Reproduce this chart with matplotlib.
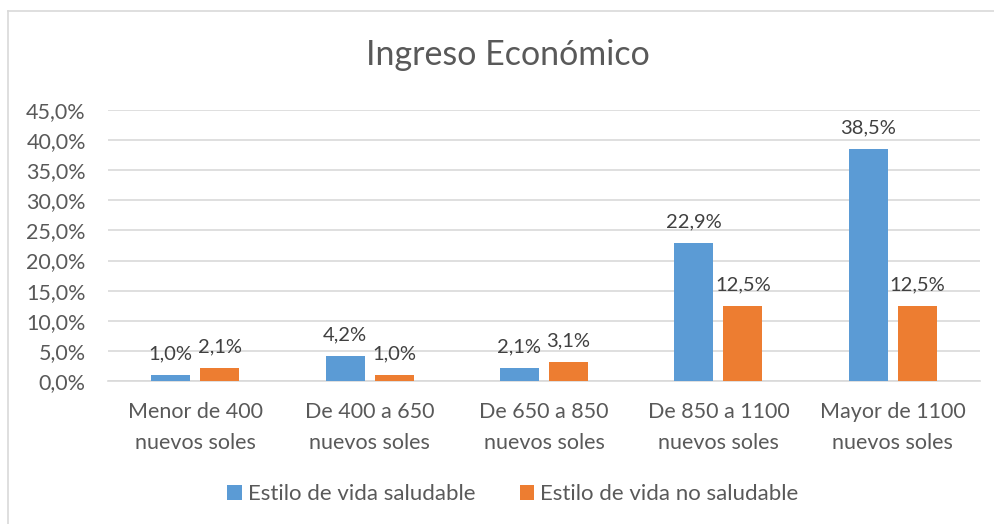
import numpy as np
import matplotlib.pyplot as plt
from matplotlib.lines import Line2D

categorias = ["Menor de 400\nnuevos soles", "De 400 a 650\nnuevos soles",
              "De 650 a 850\nnuevos soles", "De 850 a 1100\nnuevos soles",
              "Mayor de 1100\nnuevos soles"]
saludable = [1.0, 4.2, 2.1, 22.9, 38.5]
no_saludable = [2.1, 1.0, 3.1, 12.5, 12.5]
series = ["Estilo de vida saludable", "Estilo de vida no saludable"]

plt.rcParams['font.family'] = ['Lato', 'DejaVu Sans']
gris = '#595959'

W, H = 995, 524
fig = plt.figure(figsize=(W / 100, H / 100), dpi=100)
# plot area in pixels: x 108..980, y 110 (45%)..381 (0%)
ax = fig.add_axes([108 / W, 1 - 381 / H, (980 - 108) / W, (381 - 110) / H])

x = np.arange(len(categorias))
ancho = 0.224
sep = 0.057
b1 = ax.bar(x - (ancho + sep) / 2, saludable, ancho, color='#5b9bd5', zorder=3)
b2 = ax.bar(x + (ancho + sep) / 2, no_saludable, ancho, color='#ed7d31', zorder=3)

for barras, vals in [(b1, saludable), (b2, no_saludable)]:
    for r, v in zip(barras, vals):
        ax.annotate(f"{v:.1f}%".replace('.', ','),
                    (r.get_x() + r.get_width() / 2, v),
                    xytext=(0, 9), textcoords='offset points',
                    ha='center', va='bottom', fontsize=14.5, color='#404040')

ax.set_ylim(0, 45)
ax.set_xlim(-0.5, len(categorias) - 0.5)
ax.set_yticks(np.arange(0, 46, 5))
ax.set_yticklabels([f"{t:.1f}%".replace('.', ',') for t in np.arange(0, 46, 5)])
ax.set_xticks(x)
ax.set_xticklabels(categorias, linespacing=1.68)
ax.tick_params(axis='both', length=0, labelsize=15.5, colors=gris)
ax.tick_params(axis='x', pad=15)
ax.tick_params(axis='y', pad=16)
ax.grid(axis='y', color='#d9d9d9', linewidth=1.2, zorder=0)
for s in ['top', 'right', 'left']:
    ax.spines[s].set_visible(False)
ax.spines['bottom'].set_color('#d9d9d9')
ax.spines['bottom'].set_linewidth(1.2)

fig.text(508 / W, 1 - 55 / H, "Ingreso Económico", ha='center', va='center',
         fontsize=24.5, color=gris)

leg = fig.legend([b1, b2], series, loc='center', bbox_to_anchor=(513 / W, 1 - 494 / H),
                 ncol=2, frameon=False, fontsize=16, handlelength=0.64, handleheight=0.64,
                 columnspacing=2.0, handletextpad=0.28)
for t in leg.get_texts():
    t.set_color(gris)

# chart border (only top and left visible in the crop)
fig.add_artist(Line2D([8 / W, 8 / W], [0, 1 - 11 / H], transform=fig.transFigure,
                      color='#d9d9d9', linewidth=1.2))
fig.add_artist(Line2D([8 / W, 1], [1 - 11 / H, 1 - 11 / H], transform=fig.transFigure,
                      color='#d9d9d9', linewidth=1.2))

fig.savefig("out.png", dpi=100)
